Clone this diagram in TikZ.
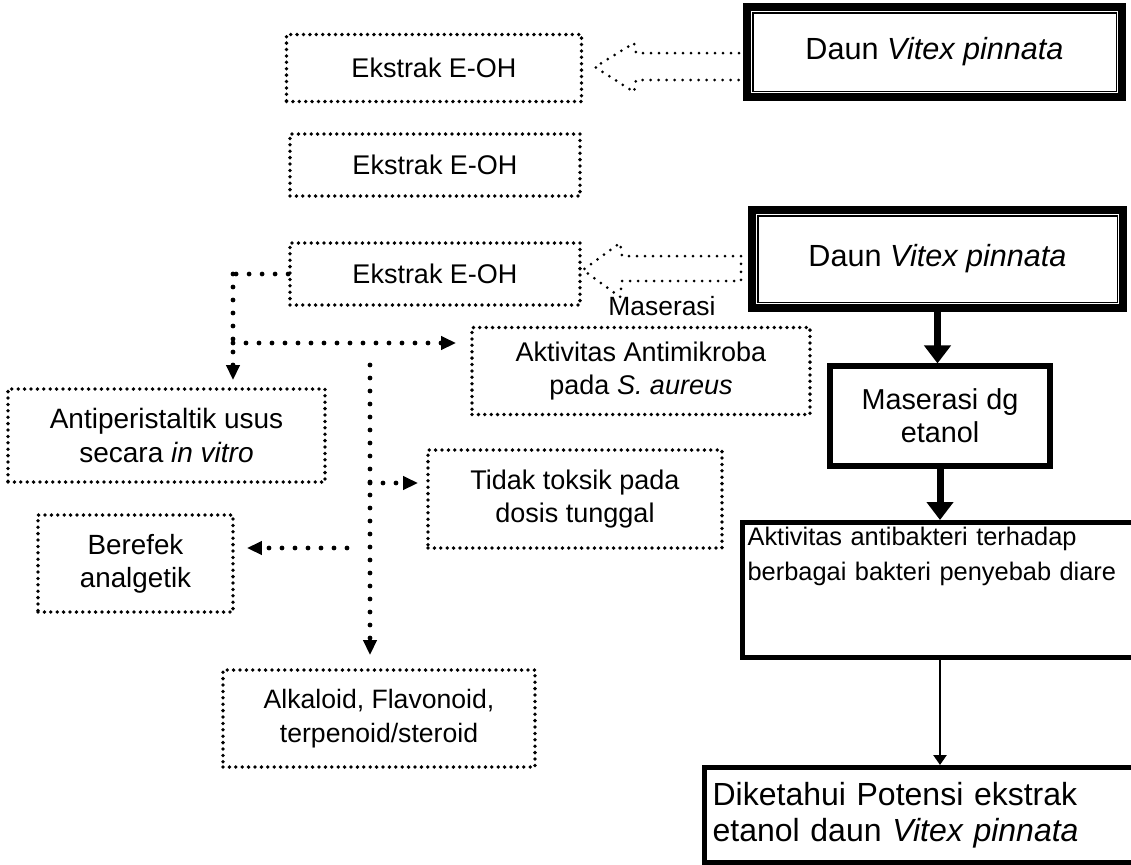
\documentclass[tikz,border=0pt]{standalone}
\usepackage{fontspec}
\setmainfont{Liberation Sans}
\usetikzlibrary{arrows.meta}

\begin{document}
\begin{tikzpicture}[line cap=round,line join=round,x=0.5pt,y=-0.5pt,
    >={Triangle[length=7.5pt,width=6.5pt]},
    dotbox/.style={draw,line width=1.9pt,dash pattern=on 0pt off 3.2pt,align=center,
      inner sep=0pt,font=\fontsize{13.5}{16.5}\selectfont},
    dotline/.style={line width=2.4pt,dash pattern=on 0pt off 6.5pt},
    hollow/.style={line width=1.5pt,dash pattern=on 0pt off 4pt},
    daunbox/.style={draw,line width=3.6pt,line cap=butt,line join=miter,inner sep=0pt,
      font=\fontsize{15.3}{17}\selectfont},
    solidbox/.style={draw,line width=2.6pt,line cap=butt,line join=miter},
    fatarrow/.style={line width=3.5pt,line cap=butt,-{Triangle[length=9pt,width=13pt]}}]
      \useasboundingbox (0,0) rectangle (1131,864);
      \clip (0,0) rectangle (1131,864);

      % left column, dotted boxes
      \node[dotbox,minimum width=147.5pt,minimum height=33.5pt] (ekA) at (434,68) {Ekstrak E-OH};
      \node[dotbox,minimum width=145pt,minimum height=31pt] (ekB) at (435,165) {Ekstrak E-OH};
      \node[dotbox,minimum width=145pt,minimum height=31pt] (ekC) at (435,274) {Ekstrak E-OH};
      \node[dotbox,minimum width=169pt,minimum height=43.5pt] (aktA) at (641,371) {Aktivitas Antimikroba\\pada \textit{S. aureus}};
      \node[dotbox,minimum width=158.5pt,minimum height=46.5pt,font=\fontsize{14}{17}\selectfont] (antip) at (166.5,435.5) {Antiperistaltik usus\\secara \textit{in vitro}};
      \node[dotbox,minimum width=147pt,minimum height=49pt] (tidak) at (575,499) {Tidak toksik pada\\dosis tunggal};
      \node[dotbox,minimum width=97.5pt,minimum height=48.5pt,font=\fontsize{13.9}{16.5}\selectfont] (beref) at (135.5,563.5) {Berefek\\analgetik};
      \node[dotbox,minimum width=156pt,minimum height=48.5pt,font=\fontsize{13.3}{17}\selectfont] (alk) at (379,718.5) {Alkaloid, Flavonoid,\\terpenoid/steroid};

      % right column
      \node[daunbox,minimum width=187.5pt,minimum height=45pt] (daunA) at (934.5,52) {Daun \textit{Vitex pinnata}};
      \node[daunbox,minimum width=185.5pt,minimum height=49pt] (daunB) at (937.5,259) {Daun \textit{Vitex pinnata}};
      \draw[line width=0.9pt,line join=miter] ([xshift=4.6pt,yshift=-4.6pt]daunA.north west) rectangle ([xshift=-4.6pt,yshift=4.6pt]daunA.south east);
      \draw[line width=0.9pt,line join=miter] ([xshift=4.6pt,yshift=-4.6pt]daunB.north west) rectangle ([xshift=-4.6pt,yshift=4.6pt]daunB.south east);
      \node[solidbox,align=center,inner sep=0pt,minimum width=110pt,minimum height=50pt,
        font=\fontsize{14.4}{16.5}\selectfont] (mas) at (940,416) {Maserasi dg\\etanol};
      \node[solidbox,anchor=north west,text width=198pt,align=left,inner xsep=2.5pt,inner ysep=2pt,
        text height=9.5pt,text depth=54pt,font=\fontsize{12.7}{17.5}\selectfont] (aktB) at (740,520)
        {Aktivitas antibakteri terhadap\\berbagai bakteri penyebab diare};
      \node[solidbox,anchor=north west,text width=215pt,align=left,inner xsep=4pt,minimum height=47.5pt,
        font=\fontsize{16}{18}\selectfont] (diket) at (702,765)
        {Diketahui Potensi ekstrak\\etanol daun \textit{Vitex pinnata}};

      % hollow arrows
      \draw[hollow] (747,53) -- (636,53) -- (634,43) -- (595,67) -- (634,92) -- (636,80) -- (747,80);
      \draw[hollow] (741,256) -- (622,256) -- (620,243) -- (583,270) -- (620,297) -- (622,281) -- (741,281) -- cycle;
      \node[font=\fontsize{13.2}{16}\selectfont] (maslbl) at (662,306) {Maserasi};

      % dotted connectors
      \coordinate (jA) at (233,274);
      \coordinate (jB) at (233,343);
      \coordinate (jC) at (370,365);
      \coordinate (jD) at (370,483);
      \coordinate (jE) at (347,548);
      \draw[dotline] (ekC.west) -- (jA);
      \draw[dotline,->,shorten >=3.5pt] (jA) -- (jA |- antip.north);
      \draw[dotline,->,shorten >=7pt] (jB) -- (jB -| aktA.west);
      \draw[dotline,->,shorten >=6.5pt] (jC) -- (jC |- alk.north);
      \draw[dotline,->,shorten >=4pt] (jD) -- (jD -| tidak.west);
      \draw[dotline,->,shorten >=6pt] (jE) -- (jE -| beref.east);

      % solid arrows
      \draw[fatarrow] (daunB.south) -- (daunB.south |- mas.north);
      \draw[fatarrow] (mas.south) -- (mas.south |- aktB.north);
      \draw[line width=1.2pt,-{Triangle[length=5pt,width=6.5pt]}] (mas.south |- aktB.south) -- (mas.south |- diket.north);
    \end{tikzpicture}
\end{document}
